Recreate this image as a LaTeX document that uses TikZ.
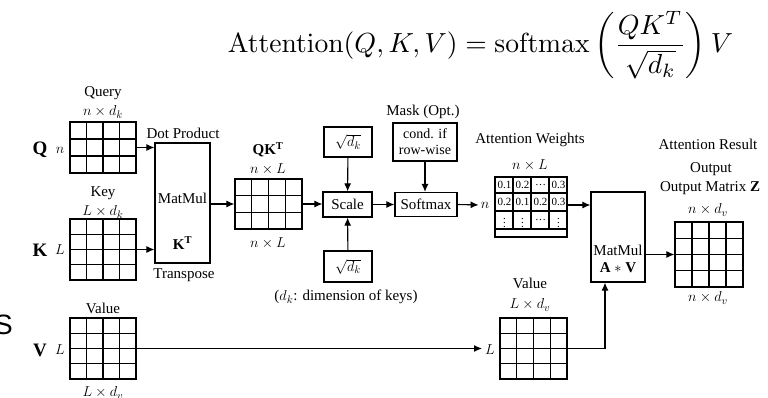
\documentclass[tikz,border=0pt]{standalone}
\usepackage[no-math]{fontspec}
\setmainfont{Liberation Serif}
\newfontfamily\sansfam{Liberation Sans}
\usepackage{amsmath}
\usepackage{graphicx}
\usetikzlibrary{arrows.meta, positioning, calc}

\tikzset{
  lbl/.style={font=\fontsize{15}{17}\selectfont, inner sep=0pt},
  vec/.style={font=\fontsize{19}{21}\selectfont\bfseries, inner sep=0pt},
  wnum/.style={font=\fontsize{11}{12}\selectfont, inner sep=0pt},
  opbox/.style={draw, line width=1.2pt, inner sep=0pt, font=\fontsize{15}{17}\selectfont},
  mgrid/.style n args={2}{draw, line width=1.2pt, inner sep=0pt,
    path picture={
      \foreach \c in {1,...,#1}{
        \draw[line width=1.2pt] ($(path picture bounding box.south west)!\c/#1!(path picture bounding box.south east)$)
          -- ($(path picture bounding box.north west)!\c/#1!(path picture bounding box.north east)$);
      }
      \foreach \r in {1,...,#2}{
        \draw[line width=1.2pt] ($(path picture bounding box.south west)!\r/#2!(path picture bounding box.north west)$)
          -- ($(path picture bounding box.south east)!\r/#2!(path picture bounding box.north east)$);
      }
    }},
  arr/.style={-{Latex[length=8pt, width=7pt]}, line width=1.1pt},
}

\begin{document}
\begin{tikzpicture}[x=1pt, y=1pt]
  \useasboundingbox (0,0) rectangle (768,397);
  % Formula
  \node[inner sep=0pt] (formula) at (480.5,352) {\resizebox{505pt}{!}{$\displaystyle\mathrm{Attention}(Q,K,V)=\mathrm{softmax}\,\biggl(\frac{QK^T}{\sqrt{d_k}}\biggr)\,V$}};
  \node[font=\sansfam\fontsize{28}{30}\selectfont, inner sep=0pt, anchor=east] (stray) at (13,72) {S};

  % Input matrices
  \node[mgrid={4}{3}, minimum width=66pt, minimum height=51pt] (Q) at (103,249.5) {};
  \node[mgrid={4}{4}, minimum width=66pt, minimum height=61pt] (K) at (103,147.5) {};
  \node[mgrid={4}{4}, minimum width=66pt, minimum height=61pt] (Vl) at (103,48.5) {};
  \node[lbl] (qname) at (103,304) {Query};
  \node[lbl] (qdim) at (103,285) {$n\times d_k$};
  \node[vec] (qsym) at (40,247) {Q};
  \node[lbl] (qrow) at (60,247) {$n$};
  \node[lbl] (kname) at (103,204) {Key};
  \node[lbl] (kdim) at (103,185) {$L\times d_k$};
  \node[vec] (ksym) at (40,147) {K};
  \node[lbl] (krow) at (60,147) {$L$};
  \node[lbl] (vname) at (103,89) {Value};
  \node[lbl] (vdim) at (103,4) {$L\times d_v$};
  \node[vec] (vsym) at (40,47) {V};
  \node[lbl] (vrow) at (60,47) {$L$};

  % Dot product
  \node[opbox, minimum width=55pt, minimum height=120pt] (mm1) at (182.5,194) {};
  \node[lbl] (mm1a) at (182.5,199) {MatMul};
  \node[lbl] (mm1b) at (182.5,154) {\textbf{K}\textsuperscript{\textbf{T}}};
  \node[lbl] (dot) at (183,264) {Dot Product};
  \node[lbl] (trans) at (184,122) {Transpose};

  \node[mgrid={4}{3}, minimum width=67pt, minimum height=50pt] (qkt) at (268.5,193) {};
  \node[lbl] (qktname) at (268,247) {\textbf{QK}\textsuperscript{\textbf{T}}};
  \node[lbl] (qktdim) at (268,228) {$n\times L$};
  \node[lbl] (qktdimb) at (268,154) {$n\times L$};

  % Scale and softmax
  \node[opbox, minimum width=49pt, minimum height=25pt] (scale) at (347.5,192.5) {Scale};
  \node[opbox, minimum width=48pt, minimum height=30pt] (sqtop) at (348,255) {$\sqrt{d_k}$};
  \node[opbox, minimum width=48pt, minimum height=31pt] (sqbot) at (348,130.5) {$\sqrt{d_k}$};
  \node[lbl] (dkinfo) at (346,100) {($d_k$: dimension of keys)};
  \node[opbox, minimum width=62pt, minimum height=24pt] (soft) at (426,192.5) {Softmax};
  \node[opbox, minimum width=64pt, minimum height=38pt, align=center,
    font=\fontsize{14}{16}\selectfont] (mask) at (425,255) {cond. if\\row-wise};
  \node[lbl] (maskname) at (423,285) {Mask (Opt.)};

  % Attention weights
  \node[draw, line width=1.2pt, inner sep=0pt, minimum width=72pt, minimum height=60pt] (attw) at (531,190) {};
  \foreach \yy in {204,186,168}{
    \draw[line width=1.2pt] (attw.west |- 0,\yy) -- (attw.east |- 0,\yy);
  }
  \foreach \xx in {513,531,549}{
    \draw[line width=1.2pt] (\xx,220) -- (\xx,168);
  }
  \foreach \v [count=\i] in {0.1,0.2,\ldots,0.3}{
    \node[wnum] (wa\i) at (495.5+\i*18-9,212) {\v};
  }
  \foreach \v [count=\i] in {0.2,0.1,0.2,0.3}{
    \node[wnum] (wb\i) at (495.5+\i*18-9,195) {\v};
  }
  \foreach \v [count=\i] in {$\vdots$,$\vdots$,\ldots,$\vdots$}{
    \node[wnum] (wc\i) at (495.5+\i*18-9,177) {\v};
  }
  \node[lbl] (attwname) at (530,257) {Attention Weights};
  \node[lbl] (attwdim) at (530,232) {$n\times L$};
  \node[lbl] (attwrow) at (485,192) {$n$};

  % Output
  \node[opbox, minimum width=54pt, minimum height=90pt] (mm2) at (618,160) {};
  \node[lbl] (mm2a) at (618,147) {MatMul};
  \node[lbl] (mm2b) at (618,129) {\textbf{A} $*$ \textbf{V}};
  \node[mgrid={4}{4}, minimum width=68pt, minimum height=65pt] (out) at (709,142.5) {};
  \node[lbl] (resname) at (708,253) {Attention Result};
  \node[lbl] (outname) at (711,228) {Output};
  \node[lbl] (outmat) at (710,209) {Output Matrix \textbf{Z}};
  \node[lbl] (outdim) at (708,187) {$n\times d_v$};
  \node[lbl] (outdimb) at (708,99) {$n\times d_v$};

  % Value (right)
  \node[mgrid={4}{4}, minimum width=67pt, minimum height=61pt] (Vr) at (533.5,48.5) {};
  \node[lbl] (vrname) at (530,114) {Value};
  \node[lbl] (vrdim) at (530,92) {$L\times d_v$};
  \node[lbl] (vrrow) at (490,47) {$L$};

  % Connectors
  \draw[arr] (Q.east) -- (Q.east -| mm1.west);
  \draw[arr] (K.east) -- (K.east -| mm1.west);
  \draw[arr] (mm1.east |- qkt.west) -- (qkt.west);
  \draw[arr] (qkt.east) -- (qkt.east -| scale.west);
  \draw[arr] (sqtop) -- (scale);
  \draw[arr] (sqbot) -- (scale);
  \draw[arr] (scale.east) -- (scale.east -| soft.west);
  \draw[arr] (mask.south) -- (mask.south |- soft.north);
  \draw[arr, shorten >=2pt] (soft.east) -- (attwrow.west);
  \draw[arr] ([yshift=2pt]attw.east) -- ([yshift=2pt]attw.east -| mm2.west);
  \draw[arr] (mm2.east |- out.west) -- (out.west);
  \draw[arr, shorten >=3pt] (Vl.east) -- (Vl.east -| vrrow.west);
  \draw[arr] (Vr.east) -| ([xshift=-13pt]mm2.south);
\end{tikzpicture}
\end{document}
